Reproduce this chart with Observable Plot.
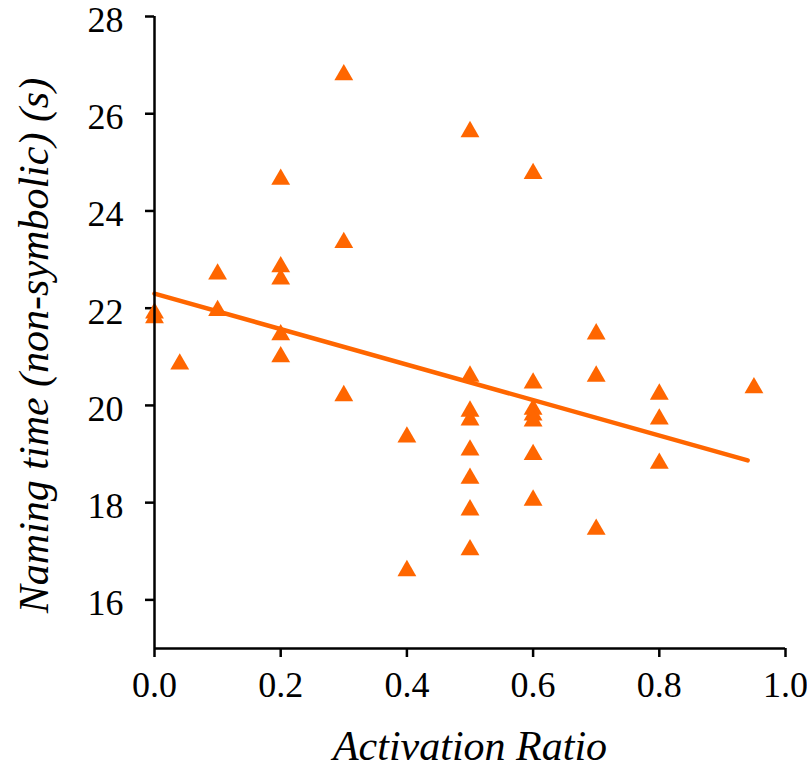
<!DOCTYPE html>
<html>
<head>
<meta charset="utf-8">
<script src="https://cdn.jsdelivr.net/npm/d3@7"></script>
<script src="https://cdn.jsdelivr.net/npm/@observablehq/plot@0.6"></script>
<style>
  html, body { margin: 0; padding: 0; background: #fff; }
  svg { overflow: visible; }
</style>
</head>
<body>
<div id="chart"></div>
<script>
// Activation ratio (x) and naming time in seconds (y)
const activationRatio = [
  0, 0,
  0.04,
  0.1, 0.1,
  0.2, 0.2, 0.2, 0.2, 0.2,
  0.3, 0.3, 0.3,
  0.4, 0.4,
  0.5, 0.5, 0.5, 0.5, 0.5, 0.5, 0.5, 0.5,
  0.6, 0.6, 0.6, 0.6, 0.6, 0.6, 0.6,
  0.7, 0.7, 0.7,
  0.8, 0.8, 0.8,
  0.95
];
const namingTime = [
  21.9, 21.8,
  20.85,
  22.7, 21.95,
  24.65, 22.85, 22.6, 21.45, 21.0,
  26.8, 23.35, 20.2,
  19.35, 16.6,
  25.63, 20.6, 19.88, 19.7, 19.08, 18.5, 17.85, 17.03,
  24.77, 20.46, 19.92, 19.8, 19.68, 18.99, 18.05,
  21.47, 20.6, 17.45,
  20.23, 19.72, 18.81,
  20.36
];

// Fitted trend line end points
const trendX = [0, 0.94];
const trendY = [22.3, 18.87];

const xTicks = [0, 0.2, 0.4, 0.6, 0.8, 1.0];
const yTicks = [16, 18, 20, 22, 24, 26, 28];
const xLabel = "Activation Ratio";
const yLabel = "Naming time (non-symbolic) (s)";

const points = activationRatio.map((x, i) => ({x, y: namingTime[i]}));
const trend = trendX.map((x, i) => ({x, y: trendY[i]}));

const orange = "#ff6600";

const chart = Plot.plot({
  width: 807,
  height: 774,
  marginLeft: 154,
  marginRight: 22,
  marginTop: 16,
  marginBottom: 126,
  x: {domain: [0, 1]},
  y: {domain: [15, 28]},
  style: {fontFamily: "'Liberation Serif', 'Times New Roman', serif", fontSize: "36px", color: "black", background: "white", overflow: "visible"},
  marks: [
    Plot.axisX({ticks: xTicks, tickSize: 9, tickPadding: 14, tickFormat: d => d.toFixed(1), fontSize: 36, strokeWidth: 2.5, label: null, fill: "black"}),
    // y tick marks only
    Plot.axisY({ticks: yTicks, tickSize: 9, tickFormat: () => "", strokeWidth: 2.5, label: null}),
    // y tick labels, sitting slightly below their ticks as in the reference
    Plot.axisY({ticks: yTicks, tickSize: 0, tickPadding: 31, dy: 4, fontSize: 36, label: null, fill: "black"}),
    Plot.line(trend, {x: "x", y: "y", stroke: orange, strokeWidth: 4.5}),
    Plot.dot(points, {x: "x", y: "y", symbol: "triangle", r: 7, fill: orange}),
    Plot.ruleX([0], {y1: 15, y2: 28, stroke: "black", strokeWidth: 2.5}),
    Plot.ruleY([15], {x1: 0, x2: 1, stroke: "black", strokeWidth: 2.5}),
    Plot.text([xLabel], {frameAnchor: "bottom", dy: 98, textAnchor: "middle", lineAnchor: "middle", fontStyle: "italic", fontSize: 42, fill: "black"}),
    Plot.text([yLabel], {frameAnchor: "left", dx: -120, dy: 13, textAnchor: "middle", lineAnchor: "middle", rotate: -90, fontStyle: "italic", fontSize: 42, fill: "black"})
  ]
});
document.getElementById("chart").appendChild(chart);
</script>
</body>
</html>
